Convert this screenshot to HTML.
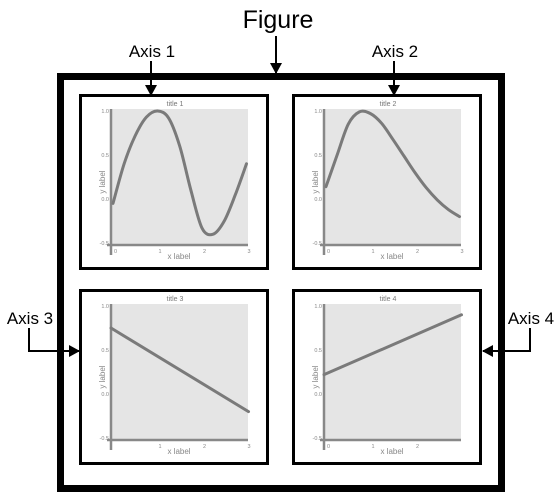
<!DOCTYPE html>
<html><head><meta charset="utf-8"><style>
html,body{margin:0;padding:0;background:#fff;width:557px;height:502px;overflow:hidden}
svg{display:block}
text{font-family:"Liberation Sans",sans-serif}
</style></head><body>
<svg id="fig" width="557" height="502" viewBox="0 0 557 502">
<defs><marker id="ah" markerWidth="12" markerHeight="12" refX="10" refY="6" orient="auto" markerUnits="userSpaceOnUse"><path d="M0,0 L11,6 L0,12 Z" fill="#000"/></marker></defs>
<rect x="60.5" y="76.5" width="441" height="412" fill="none" stroke="#000" stroke-width="7"/>
<text x="278" y="28" font-size="25" text-anchor="middle">Figure</text>
<line x1="276" y1="36" x2="276" y2="73" stroke="#000" stroke-width="2" marker-end="url(#ah)"/>
<text x="152" y="57" font-size="17" text-anchor="middle">Axis 1</text>
<line x1="151" y1="61" x2="151" y2="95" stroke="#000" stroke-width="2" marker-end="url(#ah)"/>
<text x="395" y="57" font-size="17" text-anchor="middle">Axis 2</text>
<line x1="394" y1="61" x2="394" y2="95" stroke="#000" stroke-width="2" marker-end="url(#ah)"/>
<text x="30" y="324" font-size="17" text-anchor="middle">Axis 3</text>
<polyline points="29,328 29,351 79,351" fill="none" stroke="#000" stroke-width="2" marker-end="url(#ah)"/>
<text x="531" y="324" font-size="17" text-anchor="middle">Axis 4</text>
<polyline points="530,328 530,351 483,351" fill="none" stroke="#000" stroke-width="2" marker-end="url(#ah)"/>
</svg>
<script>
const xs = [0,0.25,0.5,0.75,1,1.25,1.5,1.75,2,2.25,2.5,2.75,3];
const series1 = [-0.05,0.4,0.72,0.93,1.0,0.92,0.6,0.1,-0.33,-0.4,-0.25,0.05,0.4];
const series2 = [0.14,0.5,0.85,0.99,0.97,0.86,0.68,0.49,0.3,0.13,-0.01,-0.12,-0.2];
const xs3 = [0,3];
const series3 = [0.75,-0.2];
const xs4 = [0,3];
const series4 = [0.22,0.9];
const yTicks = [1.0,0.5,0.0,-0.5];
const yTickLabels = ["1.0","0.5","0.0","-0.5"];
const xTicks1 = [0,1,2,3];
const xTicks3 = [1,2,3];
const xTicks4 = [0,1,2];
const titles = ["title 1","title 2","title 3","title 4"];

const NS="http://www.w3.org/2000/svg";
const svg=document.getElementById('fig');
function mk(tag,attrs,parent){const e=document.createElementNS(NS,tag);for(const k in attrs)e.setAttribute(k,attrs[k]);(parent||svg).appendChild(e);return e;}
function panel(i,px,py,xv,yv,xt){
  const g=mk('g',{});
  
  
  const X=v=>px+34+v*44.5;
  const Y=v=>py+105-v*88;
  const fr=mk('rect',{x:px+1.5,y:py+1.5,width:187,height:173,fill:'#fff',stroke:'#000','stroke-width':3},g);
  
  
  const bg=mk('rect',{x:px+32,y:py+15,width:137,height:136,fill:'#e5e5e5'},g);
  
  
  const t=mk('text',{x:px+96,y:py+12,'font-size':7,fill:'#777','text-anchor':'middle'},g);t.textContent=titles[i];
  
  
  yTicks.forEach((v,k)=>{const l=mk('text',{x:px+30,y:Y(v)+2,'font-size':5.5,fill:'#888','text-anchor':'end'},g);l.textContent=yTickLabels[k];
    
    });
  xt.forEach(v=>{const l=mk('text',{x:X(v)+1,y:py+159,'font-size':5.5,fill:'#888'},g);l.textContent=String(v);
    
    });
  const xl=mk('text',{x:px+100,y:py+165,'font-size':8,fill:'#888','text-anchor':'middle'},g);xl.textContent='x label';
  
  
  const yl=mk('text',{x:0,y:0,'font-size':8,fill:'#888','text-anchor':'middle',transform:`translate(${px+26},${py+88}) rotate(-90)`},g);yl.textContent='y label';
  
  
  const ya=mk('line',{x1:px+32,y1:py+15,x2:px+32,y2:py+161,stroke:'#888','stroke-width':2.5},g);
  
  
  const xa=mk('line',{x1:px+28,y1:py+151,x2:px+169,y2:py+151,stroke:'#888','stroke-width':2.5},g);
  
  
  let d='';
  if(xv.length>2){
    const P=xv.map((x,k)=>[X(x),Y(yv[k])]);
    d='M'+P[0][0]+','+P[0][1];
    for(let k=0;k<P.length-1;k++){const p0=P[k-1]||P[k],p1=P[k],p2=P[k+1],p3=P[k+2]||p2;
      d+=` C${p1[0]+(p2[0]-p0[0])/6},${p1[1]+(p2[1]-p0[1])/6} ${p2[0]-(p3[0]-p1[0])/6},${p2[1]-(p3[1]-p1[1])/6} ${p2[0]},${p2[1]}`;}
  } else d=`M${X(xv[0])-2},${Y(yv[0])} L${X(xv[1])+2},${Y(yv[1])}`;
  const ln=mk('path',{d:d,fill:'none',stroke:'#7a7a7a','stroke-width':3,'stroke-linecap':'round'},g);
  
  
}
panel(0,79,94,xs,series1,xTicks1);
panel(1,292,94,xs,series2,xTicks1);
panel(2,79,289,xs3,series3,xTicks3);
panel(3,292,289,xs4,series4,xTicks4);
</script>
</body></html>
